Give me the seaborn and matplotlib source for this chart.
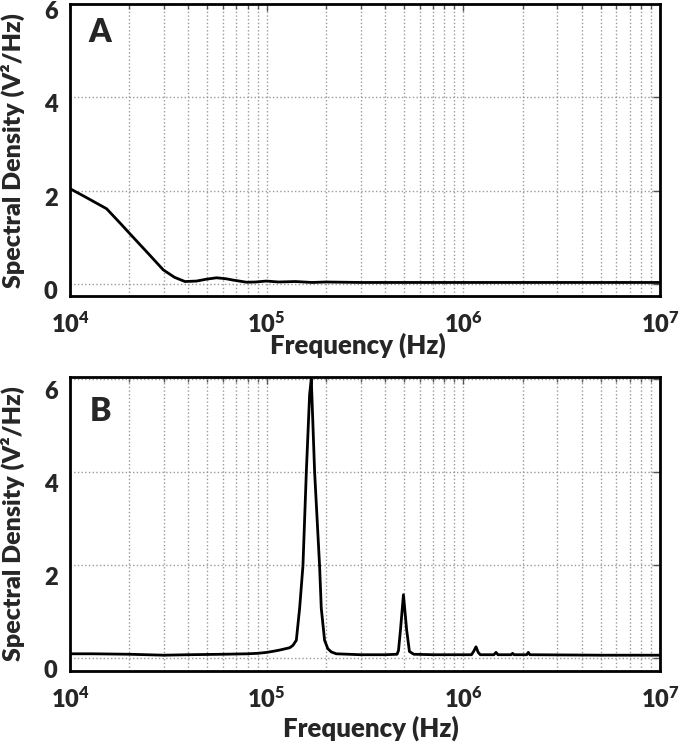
import matplotlib
matplotlib.use("Agg")
import matplotlib.pyplot as plt
import matplotlib.transforms as mtransforms
import seaborn as sns

# Panel A - spectral density
freq_a = [1.0e4, 1.2e4, 1.535e4, 1.8e4, 2.02e4, 2.5e4, 2.98e4, 3.4e4, 3.84e4, 4.4e4,
          4.94e4, 5.56e4, 6.2e4, 6.77e4, 7.9e4, 8.8e4, 9.95e4, 1.15e5, 1.4e5, 1.7e5,
          2.0e5, 3.0e5, 1.0e6, 1.0e7]
psd_a = [2.04, 1.86, 1.61, 1.30, 1.07, 0.65, 0.30, 0.14, 0.05, 0.06,
         0.10, 0.13, 0.11, 0.08, 0.035, 0.04, 0.06, 0.04, 0.05, 0.03,
         0.04, 0.03, 0.03, 0.03]

# Panel B - resonance peaks
freq_b = [1.0e4, 1.3e4, 2.0e4, 3.0e4, 4.0e4, 6.0e4, 8.0e4, 9.0e4, 1.0e5, 1.1e5,
          1.164e5, 1.309e5, 1.36e5, 1.415e5, 1.471e5, 1.529e5, 1.591e5, 1.653e5, 1.686e5,
          1.753e5, 1.858e5, 1.895e5, 1.97e5, 2.046e5, 2.13e5, 2.259e5, 2.6e5, 3.0e5,
          4.0e5, 4.6e5, 4.68e5, 4.79e5, 4.96e5, 5.15e5, 5.32e5, 5.6e5, 7.0e5, 9.0e5,
          1.10e6, 1.128e6, 1.16e6, 1.19e6, 1.22e6, 1.43e6, 1.466e6, 1.50e6, 1.75e6,
          1.78e6, 1.81e6, 2.10e6, 2.14e6, 2.18e6, 5.0e6, 1.0e7]
psd_b = [0.09, 0.09, 0.08, 0.06, 0.07, 0.08, 0.09, 0.10, 0.12, 0.15,
         0.17, 0.22, 0.27, 0.38, 1.07, 1.98, 4.0, 5.66, 6.0,
         4.0, 1.98, 1.07, 0.38, 0.20, 0.13, 0.09, 0.08, 0.07,
         0.07, 0.08, 0.16, 0.6, 1.36, 0.6, 0.14, 0.08, 0.07, 0.07,
         0.07, 0.14, 0.24, 0.12, 0.07, 0.07, 0.12, 0.07, 0.07,
         0.10, 0.07, 0.07, 0.12, 0.07, 0.06, 0.06]

yticks = [0, 2, 4, 6]

sns.set_style("white")
plt.rcParams["font.family"] = ["Lato", "DejaVu Sans"]
plt.rcParams["font.weight"] = "heavy"
plt.rcParams["axes.labelweight"] = "heavy"

fig = plt.figure(figsize=(6.85, 7.43), dpi=100)
ax_a = fig.add_axes([0.1022, 0.601, 0.8613, 0.3937])
ax_b = fig.add_axes([0.1022, 0.0969, 0.8613, 0.3957])

panels = [
    (ax_a, freq_a, psd_a, "A", (-0.27, 6.0), 0.904, 0.488, -0.124, 6),
    (ax_b, freq_b, psd_b, "B", (-0.28, 6.04), 0.884, 0.510, -0.152, 11),
]

for ax, f, p, letter, ylim, ly, xl_x, xl_y, yoff in panels:
    sns.lineplot(x=f, y=p, ax=ax, color="black", linewidth=2.0, estimator=None)
    ax.set_xscale("log")
    ax.set_xlim(1e4, 1e7)
    ax.set_ylim(*ylim)
    ax.set_yticks(yticks)

    ax.grid(which="major", linestyle=":", color="#9a9a9a", linewidth=1.0)
    ax.grid(which="minor", axis="x", linestyle=":", color="#9a9a9a", linewidth=1.0)
    ax.tick_params(which="both", direction="in", top=True, right=True,
                   width=1.0, color="#555555")
    ax.tick_params(which="major", length=5, labelsize=17, pad=9)
    ax.tick_params(axis="x", which="major", pad=11)
    ax.tick_params(which="minor", length=3.5)
    for sp in ax.spines.values():
        sp.set_linewidth(2.0)
        sp.set_color("black")

    ax.set_xlabel("Frequency (Hz)", fontsize=18.5)
    ax.xaxis.set_label_coords(xl_x, xl_y)
    ax.set_ylabel("Spectral Density (V²/Hz)", fontsize=18)
    ax.yaxis.set_label_coords(-0.076, 0.5)

    ax.text(0.051, ly, letter, transform=ax.transAxes, fontsize=23,
            fontweight="heavy", ha="center", va="center")

    shift = mtransforms.ScaledTranslation(0, -yoff / 100, fig.dpi_scale_trans)
    for lab in ax.get_yticklabels():
        lab.set_transform(lab.get_transform() + shift)

fig.savefig("out.png", dpi=100)
